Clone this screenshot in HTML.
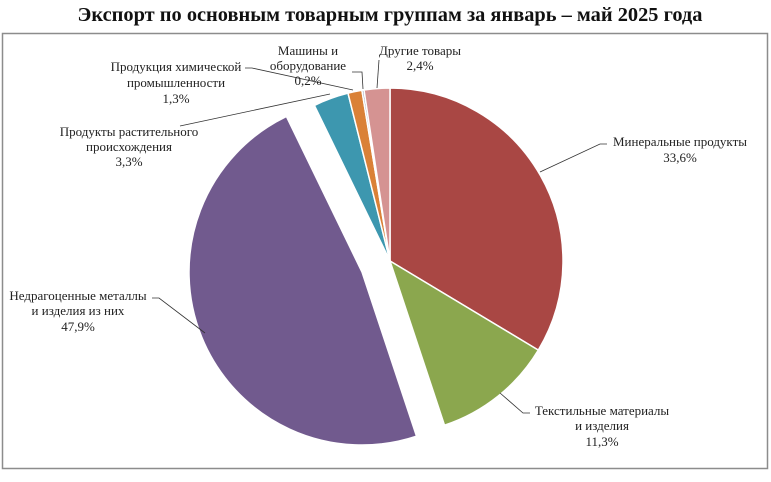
<!DOCTYPE html>
<html><head><meta charset="utf-8"><style>
body{margin:0;background:#fff;width:771px;height:482px;overflow:hidden}
svg{display:block}
text{font-family:"Liberation Serif",serif;font-size:13px;fill:#222}
</style></head><body>
<svg width="771" height="482" viewBox="0 0 771 482">
<text x="390" y="21" text-anchor="middle" style="font-size:20px;font-weight:bold;fill:#111" transform="translate(390 0) scale(1.02 1) translate(-390 0)">Экспорт по основным товарным группам за январь – май  2025 года</text>
<rect x="2.5" y="33.5" width="765" height="435" fill="#fff" stroke="#8c8c8c" stroke-width="1.5"/>
<g stroke="#fff" stroke-width="1.5">
<path d="M390,261 L390,88 A173,173 0 0 1 538.3,350.1 Z" fill="#A94744"/>
<path d="M390,261 L538.3,350.1 A173,173 0 0 1 444.5,425.2 Z" fill="#8BA74E"/>
<path d="M362,272 L416.5,436.2 A173,173 0 0 1 286.4,116.4 Z" fill="#715A8E"/>
<path d="M390,261 L314.4,105.4 A173,173 0 0 1 348,93.2 Z" fill="#3D97AF"/>
<path d="M390,261 L348,93.2 A173,173 0 0 1 361.9,90.3 Z" fill="#DA8137"/>
<path d="M390,261 L361.9,90.3 A173,173 0 0 1 364,90 Z" fill="#98A0B4"/>
<path d="M390,261 L364,90 A173,173 0 0 1 390,88 Z" fill="#D59392"/>
</g>
<g stroke="#333" stroke-width="0.8" fill="none">
<polyline points="352,72 362,72 363,89"/>
<polyline points="379,60 377,88"/>
<polyline points="245,68 252,68 353,90"/>
<polyline points="180,126 330,94"/>
<polyline points="540,172 600,144 607,144"/>
<polyline points="500,393 523,413 530,413"/>
<polyline points="152,298 159,298 205,333"/>
</g>
<g text-anchor="middle">
<text x="308" y="55">Машины и</text><text x="308" y="70">оборудование</text><text x="308" y="85">0,2%</text>
<text x="420" y="55">Другие товары</text><text x="420" y="70">2,4%</text>
<text x="176" y="71">Продукция химической</text><text x="176" y="87">промышленности</text><text x="176" y="103">1,3%</text>
<text x="129" y="136">Продукты растительного</text><text x="129" y="151">происхождения</text><text x="129" y="166">3,3%</text>
<text x="680" y="146">Минеральные продукты</text><text x="680" y="162">33,6%</text>
<text x="78" y="300">Недрагоценные металлы</text><text x="78" y="315">и изделия из них</text><text x="78" y="331">47,9%</text>
<text x="602" y="415">Текстильные материалы</text><text x="602" y="430">и изделия</text><text x="602" y="446">11,3%</text>
</g>
</svg>
</body></html>
